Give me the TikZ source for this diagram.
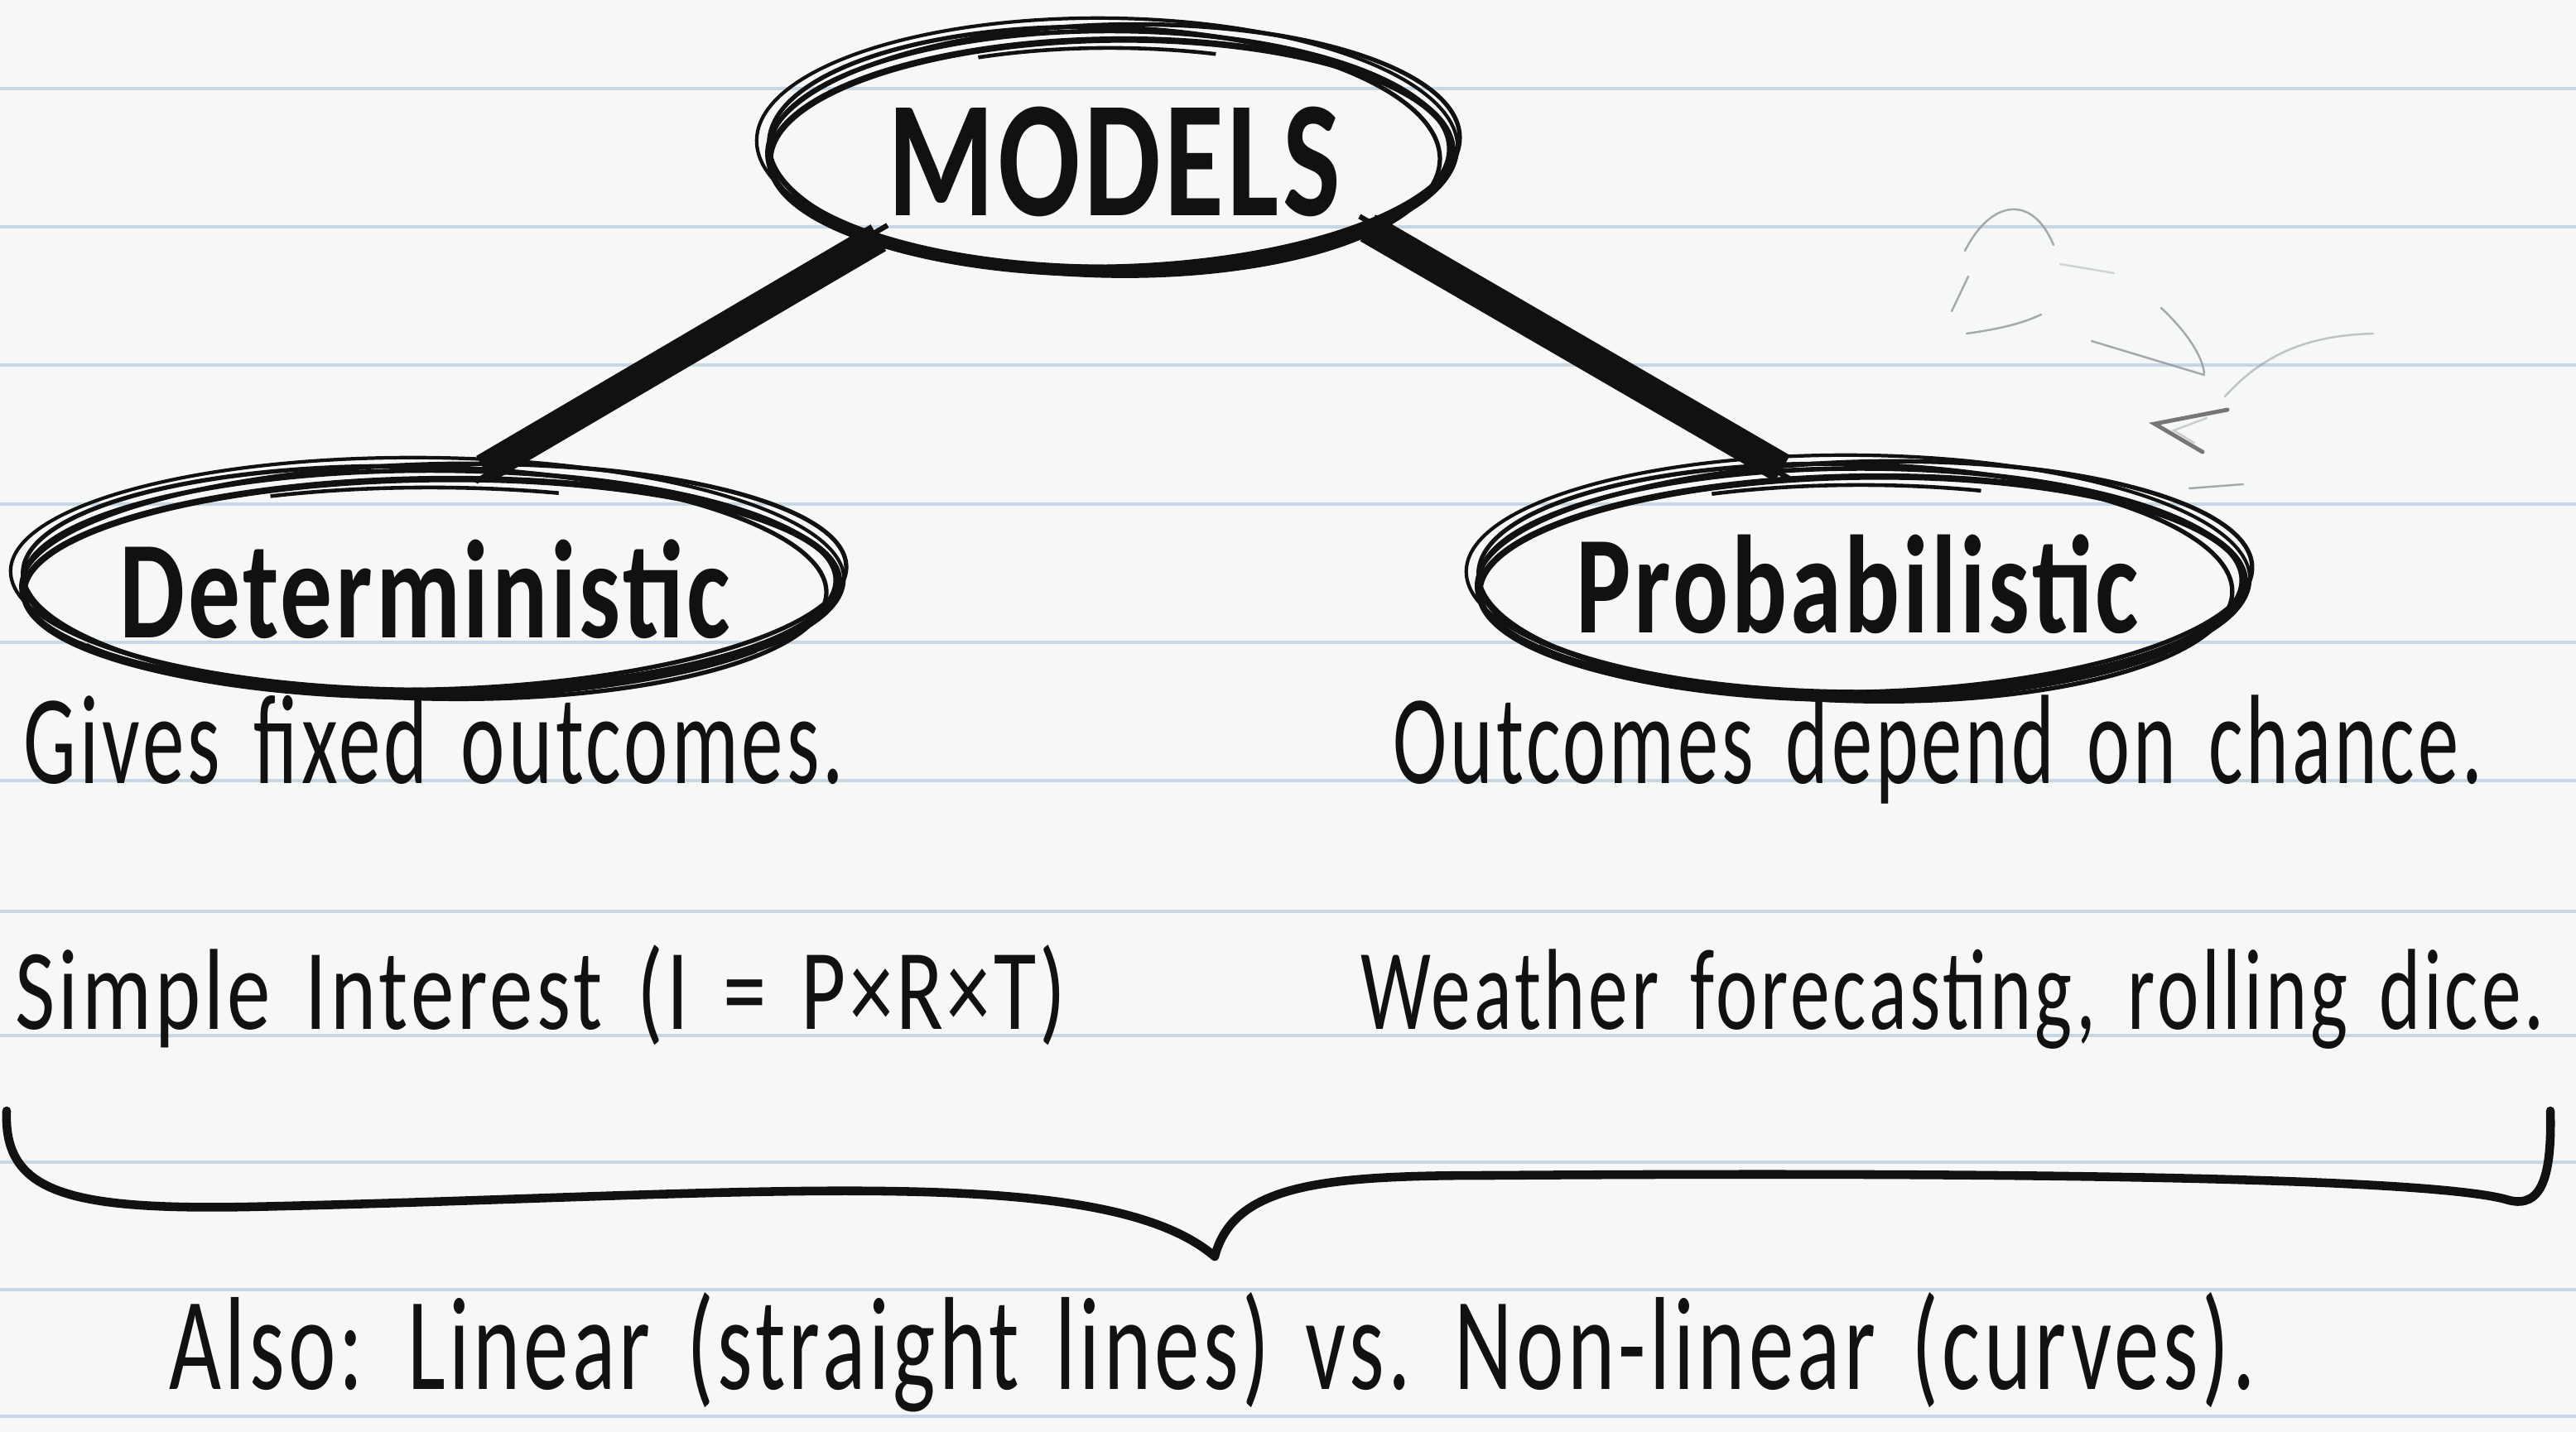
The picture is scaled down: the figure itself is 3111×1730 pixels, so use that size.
\documentclass[tikz,border=0pt]{standalone}
\usepackage{fontspec}
\setmainfont{Carlito}
\newfontfamily\handfont[LetterSpace=4,WordSpace=1.5]{Carlito}
\newfontfamily\headfont[LetterSpace=3]{Carlito}
\usetikzlibrary{shapes.geometric}
\definecolor{paper}{HTML}{F6F7F7}
\definecolor{ruling}{HTML}{C6D6E2}
\definecolor{ink}{HTML}{111111}
\definecolor{pencil}{HTML}{8A9096}
\newcommand{\fittext}[2]{\resizebox{#1}{\height}{#2}}
\newcommand{\sketchoval}[3]{%
  \draw[sk, rotate around={1.5:(#1.center)}] ([shift={(5,-4)}]#1.center) ellipse [x radius=#2cm+0.08cm, y radius=#3cm+0.04cm];
  \draw[sk, rotate around={-1.5:(#1.center)}] ([shift={(-6,3)}]#1.center) ellipse [x radius=#2cm-0.05cm, y radius=#3cm+0.08cm];
  \draw[sk, line width=2.2pt, rotate around={0.8:(#1.center)}] ([shift={(2,8)}]#1.center) ellipse [x radius=#2cm+0.02cm, y radius=#3cm-0.02cm];
  \draw[sk, line width=1.2pt, rotate around={-0.6:(#1.center)}] ([shift={(-3,-6)}]#1.center) ellipse [x radius=#2cm+0.13cm, y radius=#3cm+0.1cm];
  \draw[sk, line width=2.4pt, rotate around={0.4:(#1.center)}] ([shift={(0,14)}]#1.center) ++(-150:#2cm-0.1cm and #3cm-0.06cm) arc [start angle=-150, end angle=-35, x radius=#2cm-0.1cm, y radius=#3cm-0.06cm];
  \draw[sk, line width=1.3pt] (#1.center) ++(115:#2cm-0.35cm and #3cm-0.2cm) arc [start angle=115, end angle=70, x radius=#2cm-0.35cm, y radius=#3cm-0.2cm];
}
\begin{document}
\begin{tikzpicture}[x=0.01cm,y=-0.01cm,
  sk/.style={draw=ink, line width=1.5pt},
  ovalnode/.style={ellipse, inner sep=0pt, draw=ink, line width=1.6pt},
  txt/.style={anchor=base west, inner sep=0pt, text=ink},
  conn/.style={draw=ink, line width=10.5pt, line cap=butt},
  connthin/.style={draw=ink, line width=1.8pt},
  pen/.style={draw=pencil, line width=0.7pt, line cap=round, opacity=0.75}
]
\useasboundingbox (0,0) rectangle (3111,1730);
\fill[paper] (0,0) rectangle (3111,1730);
\foreach \yy in {107,274,441,609,776,943,1101,1251,1404,1558,1711}
  \draw[ruling, line width=1.2pt] (0,\yy) -- (3111,\yy);

% ovals
\node[ovalnode, minimum width=8.2cm, minimum height=2.85cm] (models) at (1340,180) {};
\node[ovalnode, minimum width=9.8cm, minimum height=2.65cm] (det) at (519,701) {};
\node[ovalnode, minimum width=9.2cm, minimum height=2.7cm] (prob) at (2247,701) {};
\sketchoval{models}{4.1}{1.42}
\sketchoval{det}{4.9}{1.32}
\sketchoval{prob}{4.6}{1.35}

% texts
\node[txt] (modelsT) at (1072,260) {\fittext{5.46cm}{\fontsize{57}{60}\headfont\bfseries MODELS}};
\node[txt] (detT) at (144,770) {\fittext{7.37cm}{\fontsize{48}{50}\headfont\bfseries Deterministic}};
\node[txt] (probT) at (1903,764) {\fittext{6.79cm}{\fontsize{48}{50}\headfont\bfseries Probabilistic}};
\node[txt] (detD) at (28,946) {\fittext{9.90cm}{\fontsize{43.7}{46}\handfont Gives fixed outcomes.}};
\node[txt] (probD) at (1682,946) {\fittext{13.15cm}{\fontsize{43.7}{46}\handfont Outcomes depend on chance.}};
\node[txt] (detE) at (18,1243) {\fittext{12.68cm}{\fontsize{39.6}{42}\handfont Simple Interest (I = P×R×T)}};
\node[txt] (probE) at (1643,1243) {\fittext{14.28cm}{\fontsize{39.6}{42}\handfont Weather forecasting, rolling dice.}};
\node[txt] (also) at (204,1678) {\fittext{25.18cm}{\fontsize{45.5}{48}\handfont Also: Linear (straight lines) vs. Non-linear (curves).}};

% connectors
\draw[conn] (models.201) -- (det.64);
\draw[connthin, transform canvas={xshift=-0.1cm, yshift=-0.15cm}] (models.201) -- (det.64);
\draw[connthin, transform canvas={xshift=0.11cm, yshift=0.15cm}] (models.201) -- (det.64);
\draw[conn] (models.343) -- (prob.125);
\draw[connthin, transform canvas={xshift=0.1cm, yshift=-0.13cm}] (models.343) -- (prob.125);
\draw[connthin, transform canvas={xshift=-0.1cm, yshift=0.14cm}] (models.343) -- (prob.125);

% brace
\coordinate (bl) at (8,1342);
\coordinate (btip) at (1467,1518);
\coordinate (br) at (3080,1342);
\draw[ink, line width=3pt, line cap=round] (bl) .. controls (4,1440) and (80,1462) .. (300,1458) .. controls (900,1445) and (1330,1400) .. (btip);
\draw[ink, line width=3pt, line cap=round] (btip) .. controls (1490,1430) and (1600,1420) .. (1800,1420) .. controls (2500,1415) and (2950,1425) .. (3030,1450) .. controls (3070,1460) and (3082,1420) .. (br);

% faint pencil scribbles (top right)
\draw[pen] (2373,303) .. controls (2405,240) and (2455,235) .. (2480,296);
\draw[pen] (2377,334) -- (2357,376);
\draw[pen] (2375,403) .. controls (2410,398) and (2440,392) .. (2465,380);
\draw[pen, opacity=0.35] (2488,319) -- (2553,330);
\draw[pen] (2610,372) .. controls (2640,400) and (2660,430) .. (2662,451);
\draw[pen] (2526,412) -- (2662,453);
\draw[pen, opacity=0.5] (2687,479) .. controls (2740,420) and (2800,405) .. (2866,403);
\draw[pen, draw=black!70, line width=1.4pt] (2690,495) -- (2602,512) -- (2660,546);
\draw[pen, opacity=0.4] (2665,505) -- (2625,520) -- (2650,535);
\draw[pen] (2644,590) -- (2709,585);
\end{tikzpicture}
\end{document}
